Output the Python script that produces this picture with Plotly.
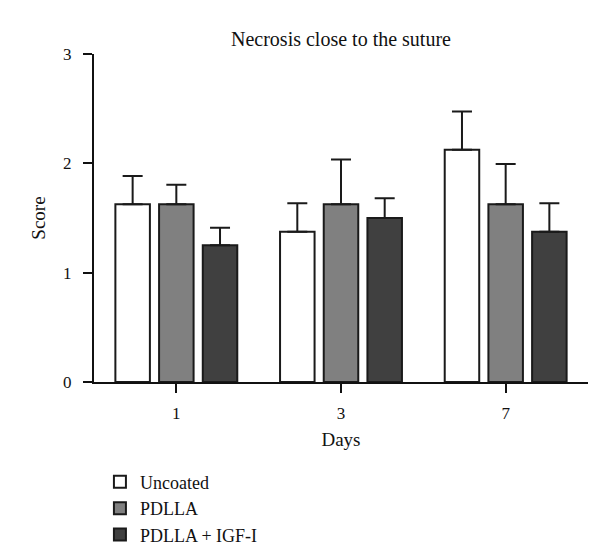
import plotly.graph_objects as go

days = ["1", "3", "7"]
series_names = ["Uncoated", "PDLLA", "PDLLA + IGF-I"]
uncoated = [1.625, 1.375, 2.125]
uncoated_err = [0.26, 0.26, 0.35]
pdlla = [1.625, 1.625, 1.625]
pdlla_err = [0.18, 0.41, 0.37]
igf = [1.25, 1.5, 1.375]
igf_err = [0.16, 0.18, 0.26]

colors = ["#ffffff", "#808080", "#404040"]
FONT = "Liberation Serif"

fig = go.Figure()
for name, vals, errs, col in zip(series_names, [uncoated, pdlla, igf],
                                  [uncoated_err, pdlla_err, igf_err], colors):
    fig.add_trace(go.Bar(
        x=days, y=vals, name=name, legendgroup=name,
        marker=dict(color=col, line=dict(color="#1a1a1a", width=2)),
        error_y=dict(type="data", array=errs, arrayminus=[0] * len(errs),
                     symmetric=False, color="#1a1a1a", thickness=2, width=10),
    ))

fig.update_layout(
    width=600, height=557,
    margin=dict(l=86, r=20, t=45.5, b=182),
    paper_bgcolor="white", plot_bgcolor="white",
    font=dict(family=FONT, size=17, color="#111"),
    barmode="group", bargap=0.204, bargroupgap=0.21,
    title=dict(text="Necrosis close to the suture", x=0.555, xanchor="center",
               y=0.944, yanchor="middle", font=dict(size=20, family=FONT)),
    showlegend=True,
    legend=dict(x=0.012, y=-0.245, xanchor="left", yanchor="top",
                orientation="v", font=dict(size=18, family=FONT),
                tracegroupgap=0, bgcolor="rgba(0,0,0,0)"),
    xaxis=dict(type="category", categoryorder="array", categoryarray=days,
               range=[-0.5, 2.5], showline=True, linecolor="#111", linewidth=2,
               ticks="outside", ticklen=9, tickwidth=2, tickcolor="#111",
               ticklabelstandoff=6,
               showgrid=False, zeroline=False, tickfont=dict(size=17),
               title=dict(text="Days", standoff=10, font=dict(size=19, family=FONT))),
    yaxis=dict(range=[0, 3], tickvals=[0, 1, 2, 3], showline=True, linecolor="#111",
               linewidth=2, ticks="outside", ticklen=9, tickwidth=2,
               tickcolor="#111", showgrid=False, zeroline=False,
               ticklabelstandoff=8, tickfont=dict(size=17),
               title=dict(text="Score", standoff=12, font=dict(size=19, family=FONT))),
)

fig.write_html("out.html")
